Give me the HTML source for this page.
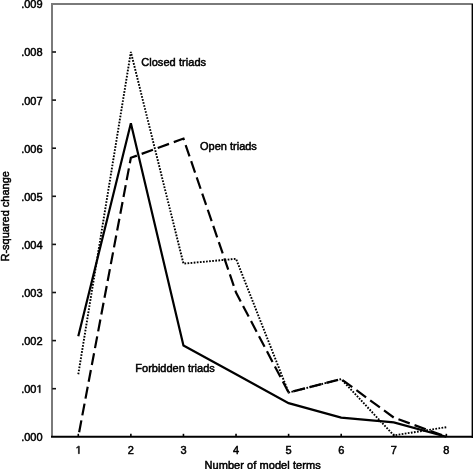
<!DOCTYPE html>
<html><head><meta charset="utf-8"><style>
html,body{margin:0;padding:0;background:#fff;}
svg{display:block;}
text{font-family:"Liberation Sans",sans-serif;font-size:11px;fill:#000;stroke:#000;stroke-width:0.5px;}
svg{filter:grayscale(1);}
</style></head><body>
<svg width="473" height="469" viewBox="0 0 473 469">
<rect x="0" y="0" width="473" height="469" fill="#fff"/>
<line x1="51" y1="4.1" x2="473" y2="4.1" stroke="#7a7a7a" stroke-width="2"/>
<line x1="52" y1="3.1" x2="52" y2="437" stroke="#7a7a7a" stroke-width="2"/>
<line x1="472.6" y1="4" x2="472.6" y2="438" stroke="#000" stroke-width="2"/>
<line x1="51" y1="436.85" x2="473" y2="436.85" stroke="#000" stroke-width="2"/>
<line x1="52.2" y1="388.70" x2="56" y2="388.70" stroke="#111" stroke-width="1.6"/>
<line x1="52.2" y1="340.60" x2="56" y2="340.60" stroke="#111" stroke-width="1.6"/>
<line x1="52.2" y1="292.50" x2="56" y2="292.50" stroke="#111" stroke-width="1.6"/>
<line x1="52.2" y1="244.40" x2="56" y2="244.40" stroke="#111" stroke-width="1.6"/>
<line x1="52.2" y1="196.30" x2="56" y2="196.30" stroke="#111" stroke-width="1.6"/>
<line x1="52.2" y1="148.20" x2="56" y2="148.20" stroke="#111" stroke-width="1.6"/>
<line x1="52.2" y1="100.10" x2="56" y2="100.10" stroke="#111" stroke-width="1.6"/>
<line x1="52.2" y1="52.00" x2="56" y2="52.00" stroke="#111" stroke-width="1.6"/>
<line x1="78.29" y1="436" x2="78.29" y2="433.8" stroke="#000" stroke-width="1.6"/>
<line x1="130.87" y1="436" x2="130.87" y2="433.8" stroke="#000" stroke-width="1.6"/>
<line x1="183.45" y1="436" x2="183.45" y2="433.8" stroke="#000" stroke-width="1.6"/>
<line x1="236.03" y1="436" x2="236.03" y2="433.8" stroke="#000" stroke-width="1.6"/>
<line x1="288.61" y1="436" x2="288.61" y2="433.8" stroke="#000" stroke-width="1.6"/>
<line x1="341.19" y1="436" x2="341.19" y2="433.8" stroke="#000" stroke-width="1.6"/>
<line x1="393.77" y1="436" x2="393.77" y2="433.8" stroke="#000" stroke-width="1.6"/>
<line x1="446.35" y1="436" x2="446.35" y2="433.8" stroke="#000" stroke-width="1.6"/>

<polyline points="78.29,374.27 130.87,52.00 183.45,263.64 236.03,258.83 288.61,392.55 341.19,379.08 393.77,435.36 446.35,427.18" fill="none" stroke="#000" stroke-width="1.9" stroke-dasharray="1.7 1.4"/>
<polyline points="78.29,436.80 130.87,157.82 183.45,138.58 236.03,292.50 288.61,392.55 341.19,379.08 393.77,417.56 446.35,436.80" fill="none" stroke="#000" stroke-width="2.2" stroke-dasharray="12 5.1" stroke-dashoffset="12.41"/>
<polyline points="78.29,336.27 130.87,123.19 183.45,345.41 236.03,374.27 288.61,403.13 341.19,417.56 393.77,422.37 446.35,436.80" fill="none" stroke="#000" stroke-width="2.2"/>
<text x="42.6" y="441.20" text-anchor="end">.000</text>
<text x="21.19" y="393.10">.00</text>
<path transform="translate(36.482,392.700) scale(0.005371,-0.005371)" d="M515,0 L515,1237 L197,1010 L197,1180 L530,1409 L696,1409 L696,0 Z" fill="#000" stroke="#000" stroke-width="93.1" stroke-linejoin="miter"/>
<text x="42.6" y="345.00" text-anchor="end">.002</text>
<text x="42.6" y="296.90" text-anchor="end">.003</text>
<text x="42.6" y="248.80" text-anchor="end">.004</text>
<text x="42.6" y="200.70" text-anchor="end">.005</text>
<text x="42.6" y="152.60" text-anchor="end">.006</text>
<text x="42.6" y="104.50" text-anchor="end">.007</text>
<text x="42.6" y="56.40" text-anchor="end">.008</text>
<text x="42.6" y="8.30" text-anchor="end">.009</text>
<path transform="translate(75.631,453.700) scale(0.005371,-0.005371)" d="M515,0 L515,1237 L197,1010 L197,1180 L530,1409 L696,1409 L696,0 Z" fill="#000" stroke="#000" stroke-width="93.1" stroke-linejoin="miter"/>
<text x="130.87" y="454.2" text-anchor="middle">2</text>
<text x="183.45" y="454.2" text-anchor="middle">3</text>
<text x="236.03" y="454.2" text-anchor="middle">4</text>
<text x="288.61" y="454.2" text-anchor="middle">5</text>
<text x="341.19" y="454.2" text-anchor="middle">6</text>
<text x="393.77" y="454.2" text-anchor="middle">7</text>
<text x="446.35" y="454.2" text-anchor="middle">8</text>

<text x="141.2" y="65.5" letter-spacing="0.06">Closed triads</text>
<text x="200" y="149.6">Open triads</text>
<text x="135.3" y="371.9">Forbidden triads</text>
<text x="204.5" y="468.8" letter-spacing="0.06">Number of model terms</text>
<text transform="translate(8.8,216.3) rotate(-90)" text-anchor="middle">R-squared change</text>
</svg>
</body></html>
